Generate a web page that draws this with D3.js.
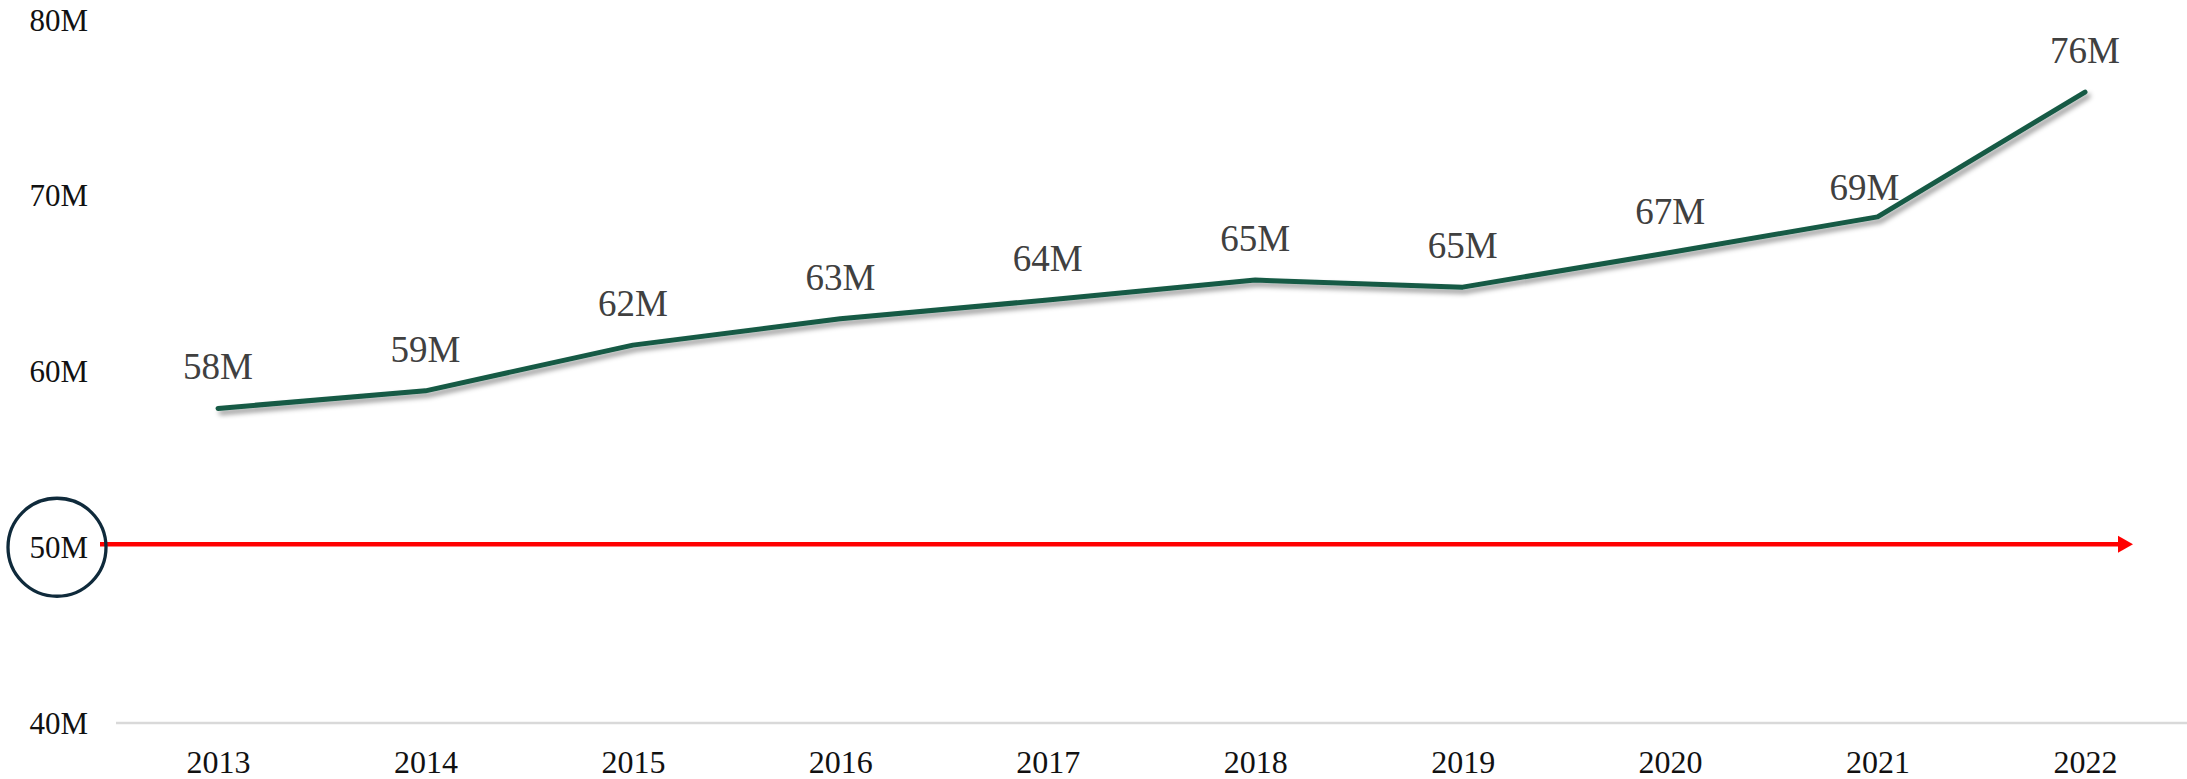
<!DOCTYPE html>
<html lang="en">
<head>
    <meta charset="UTF-8">
    <title>Line chart</title>
    <script src="https://d3js.org/d3.v7.min.js"></script>
    <style>
        body { margin: 0; background: #fff; }
        text { font-family: "Liberation Serif", "Times New Roman", serif; }
    </style>
</head>
<body>
    <div id="chart"></div>
    <script>
        // chart data (millions)
        const years = ["2013", "2014", "2015", "2016", "2017", "2018", "2019", "2020", "2021", "2022"];
        const values = [57.9, 58.9, 61.5, 63.0, 64.07, 65.2, 64.8, 66.77, 68.8, 75.9];
        const yTicks = [40, 50, 60, 70, 80];
        const threshold = 50;

        const width = 2187, height = 779;

        const svg = d3.select("#chart").append("svg")
            .attr("width", width)
            .attr("height", height);

        const x = d3.scalePoint().domain(years).range([218, 2085]);
        const y = d3.scaleLinear().domain([40, 80]).range([723, 20]);

        const defs = svg.append("defs");
        const shadow = defs.append("filter").attr("id", "shadow")
            .attr("x", "-5%").attr("y", "-20%").attr("width", "110%").attr("height", "140%");
        shadow.append("feDropShadow")
            .attr("dx", 3).attr("dy", 4).attr("stdDeviation", 2.5)
            .attr("flood-color", "#000").attr("flood-opacity", 0.4);

        // baseline gridline
        svg.append("line")
            .attr("x1", 116).attr("x2", width)
            .attr("y1", y(40)).attr("y2", y(40))
            .style("stroke", "#d9d9d9")
            .style("stroke-width", 2.5);

        const yAxis = svg.append("g")
            .attr("transform", "translate(88,0)")
            .call(d3.axisLeft(y).tickValues(yTicks).tickSize(0).tickPadding(0).tickFormat(d => d + "M"));
        yAxis.select(".domain").remove();
        yAxis.selectAll("text")
            .style("font-size", "31px")
            .style("fill", "#111")
            .style("font-family", "Liberation Serif, serif")
            .attr("dy", "0.33em");

        const xAxis = svg.append("g")
            .attr("transform", `translate(0,${y(40)})`)
            .call(d3.axisBottom(x).tickSize(0).tickPadding(27));
        xAxis.select(".domain").remove();
        xAxis.selectAll("text")
            .style("font-size", "32px")
            .style("fill", "#111")
            .style("font-family", "Liberation Serif, serif");

        // red reference arrow at 50M
        const ry = y(threshold) - 3;
        svg.append("line")
            .attr("x1", 100).attr("x2", 2120)
            .attr("y1", ry).attr("y2", ry)
            .style("stroke", "#ff0000")
            .style("stroke-width", 4.5);
        svg.append("path")
            .attr("d", `M2118,${ry - 8.5}L2133,${ry}L2118,${ry + 8.5}Z`)
            .style("fill", "#ff0000");

        // circle around the 50M tick
        svg.append("circle")
            .attr("cx", 57).attr("cy", y(threshold))
            .attr("r", 49)
            .style("fill", "none")
            .style("stroke", "#0f2a3b")
            .style("stroke-width", 3.3);

        const data = years.map((yr, i) => ({year: yr, value: values[i]}));

        const line = d3.line()
            .x(d => x(d.year))
            .y(d => y(d.value));

        svg.append("path")
            .datum(data)
            .attr("d", line)
            .attr("filter", "url(#shadow)")
            .style("fill", "none")
            .style("stroke", "#155a45")
            .style("stroke-width", 5)
            .style("stroke-linejoin", "round")
            .style("stroke-linecap", "round");

        // data labels above points; nudge the one before the steep rise
        svg.selectAll(".label")
            .data(data)
            .enter().append("text")
            .attr("class", "label")
            .attr("x", (d, i) => {
                const steep = i < data.length - 1 && data[i + 1].value - d.value > 5;
                return x(d.year) + (steep ? -13 : 0);
            })
            .attr("y", (d, i) => {
                const steep = i < data.length - 1 && data[i + 1].value - d.value > 5;
                return y(d.value) - (steep ? 17 : 29);
            })
            .attr("text-anchor", "middle")
            .style("font-size", "37px")
            .style("fill", "#404040")
            .text(d => Math.round(d.value) + "M");
    </script>
</body>
</html>
